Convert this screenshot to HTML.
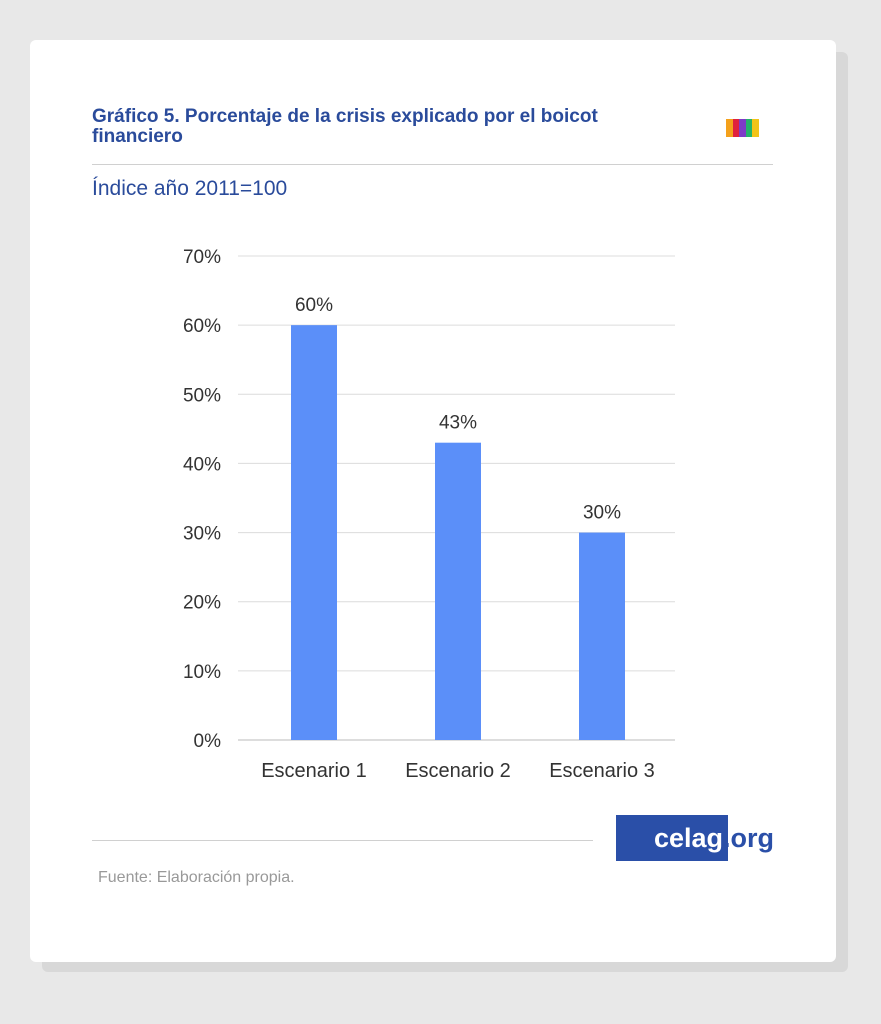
<!DOCTYPE html>
<html><head><meta charset="utf-8"><style>
body{margin:0;width:881px;height:1024px;background:#e8e8e8;font-family:"Liberation Sans",sans-serif;position:relative;overflow:hidden}
.sh{position:absolute;left:42px;top:52px;width:806px;height:920px;background:#d8d8d8;border-radius:6px}
.card{position:absolute;left:30px;top:40px;width:806px;height:922px;background:#fff;border-radius:6px}
.t{position:absolute;left:92px;top:107px;width:600px;color:#2a4b9b;font-weight:bold;font-size:19px;line-height:20px}
.sub{position:absolute;left:92px;top:177px;color:#2a4b9b;font-size:21px}
.hr{position:absolute;height:1px;background:#d0d0d0}
</style></head><body>
<div class="sh"></div>
<div class="card"></div>
<div class="t">Gráfico 5. Porcentaje de la crisis explicado por el boicot financiero</div>
<div style="position:absolute;left:726px;top:119px;width:33px;height:18px;display:flex">
<span style="flex:1;background:#f4a11b"></span><span style="flex:1;background:#e0213d"></span><span style="flex:1;background:#7e3bc7"></span><span style="flex:1;background:#25b36a"></span><span style="flex:1;background:#f2c418"></span></div>
<div class="hr" style="left:92px;top:164px;width:681px"></div>
<div class="sub">Índice año 2011=100</div>
<svg id="c" width="881" height="1024" style="position:absolute;left:0;top:0"></svg>
<div class="hr" style="left:92px;top:840px;width:501px"></div>
<div style="position:absolute;left:616px;top:815px;width:112px;height:46px;background:#2a4fa8"></div>
<div style="position:absolute;left:654px;top:823px;font-size:27px;font-weight:bold;color:#fff">celag<span style="color:#2a4fa8">.org</span></div>
<div style="position:absolute;left:98px;top:869px;font-size:16px;color:#999">Fuente: Elaboración propia.</div>
<script>
const categories=["Escenario 1","Escenario 2","Escenario 3"];
const values=[60,43,30];
const ticks=[0,10,20,30,40,50,60,70];
const ns="http://www.w3.org/2000/svg",svg=document.getElementById('c');
const x0=242,bw=144,y0=740,yTop=256,yMax=70;
const y=v=>y0-(v/yMax)*(y0-yTop);
function mk(t,a,txt){const e=document.createElementNS(ns,t);for(const k in a)e.setAttribute(k,a[k]);if(txt!=null)e.textContent=txt;svg.appendChild(e);return e;}
ticks.forEach(t=>{
const l=mk('line',{x1:238,x2:675,y1:y(t),y2:y(t),stroke:t?'#dcdcdc':'#bbb','stroke-width':1});


const tx=mk('text',{x:221,y:y(t)+7,'text-anchor':'end','font-size':19,fill:'#333','font-family':'Liberation Sans, sans-serif'},t+'%');


});
categories.forEach((c,i)=>{
const cx=x0+bw*(i+0.5);
const r=mk('rect',{x:cx-23,y:y(values[i]),width:46,height:y0-y(values[i]),fill:'#5b8ff9'});


const v=mk('text',{x:cx,y:y(values[i])-14,'text-anchor':'middle','font-size':19,fill:'#333','font-family':'Liberation Sans, sans-serif'},values[i]+'%');


const xl=mk('text',{x:cx,y:777,'text-anchor':'middle','font-size':20,fill:'#333','font-family':'Liberation Sans, sans-serif'},c);


});
</script>
</body></html>
